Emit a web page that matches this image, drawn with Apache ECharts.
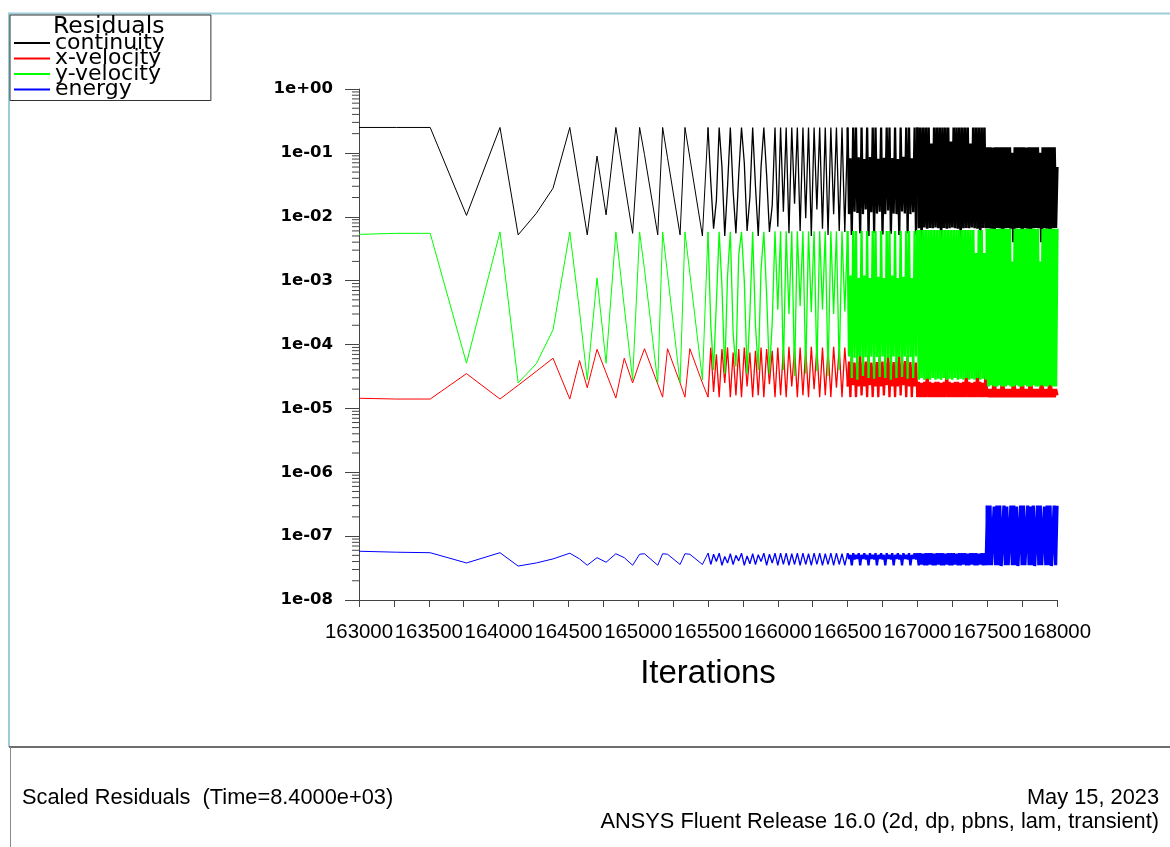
<!DOCTYPE html>
<html>
<head>
<meta charset="utf-8">
<title>Scaled Residuals</title>
<script src="https://cdn.jsdelivr.net/npm/echarts@6/dist/echarts.min.js"></script>
<style>
  html, body { margin: 0; padding: 0; background: #ffffff; }
  #chart { width: 1170px; height: 847px; }
</style>
</head>
<body>
<div id="chart"></div>
<script>
// Iteration counters: the early stretch is logged irregularly, later stretches at a fixed stride.
const iterStart = [163000, 163270, 163510, 163770, 164010, 164140, 164270, 164390, 164510, 164580,
  164635, 164705, 164770, 164840, 164900, 164960, 165010, 165045, 165140, 165175,
  165210, 165300, 165335, 165370, 165460];
function span(first, last, step) {
  const out = [];
  for (let v = first; v <= last; v += step) out.push(v);
  return out;
}
const iterations = iterStart.concat(
  span(165500, 166480, 20),
  span(166500, 166990, 10),
  span(167000, 167490, 10),
  span(167500, 168000, 10)
);

const continuity = [
  // 163000 - 165460
  0.25, 0.25, 0.25, 0.0105, 0.25, 0.0052, 0.0113, 0.028, 0.25, 0.029,
  0.0052, 0.089, 0.0107, 0.25, 0.036, 0.0055, 0.25, 0.094, 0.0052, 0.25,
  0.084, 0.0052, 0.25, 0.084, 0.005,
  // 165500 - 166480
  0.25, 0.035, 0.0065, 0.018, 0.25, 0.06, 0.005, 0.03, 0.25, 0.025,
  0.0055, 0.045, 0.25, 0.07, 0.006, 0.02, 0.25, 0.03, 0.005, 0.06,
  0.25, 0.045, 0.0058, 0.015, 0.25, 0.007, 0.25, 0.012, 0.25, 0.0055,
  0.25, 0.016, 0.25, 0.006, 0.25, 0.0095, 0.25, 0.005, 0.25, 0.013,
  0.25, 0.0065, 0.25, 0.0052, 0.25, 0.011, 0.25, 0.006, 0.25, 0.0058,
  // 166500 - 166990
  0.25, 0.011, 0.082, 0.0052, 0.25, 0.012, 0.25, 0.0115, 0.085, 0.0055,
  0.25, 0.011, 0.08, 0.013, 0.25, 0.005, 0.086, 0.0118, 0.25, 0.0056,
  0.25, 0.0112, 0.081, 0.012, 0.25, 0.0053, 0.084, 0.011, 0.25, 0.0125,
  0.25, 0.0054, 0.083, 0.0112, 0.25, 0.011, 0.08, 0.0052, 0.25, 0.0121,
  0.087, 0.0113, 0.25, 0.0055, 0.25, 0.011, 0.082, 0.0118, 0.25, 0.0053,
  // 167000 - 167490
  0.25, 0.0066, 0.25, 0.0045, 0.25, 0.0068, 0.25, 0.0065, 0.25, 0.0067,
  0.14, 0.0066, 0.25, 0.0068, 0.25, 0.0066, 0.25, 0.0046, 0.25, 0.0067,
  0.25, 0.0065, 0.25, 0.0066, 0.15, 0.0068, 0.25, 0.0066, 0.25, 0.0065,
  0.25, 0.0047, 0.25, 0.0066, 0.25, 0.0067, 0.25, 0.0066, 0.14, 0.0068,
  0.25, 0.0066, 0.25, 0.0065, 0.25, 0.0045, 0.25, 0.0067, 0.25, 0.0066,
  // 167500 - 168000
  0.122, 0.0066, 0.122, 0.0065, 0.121, 0.0043, 0.122, 0.0067, 0.122, 0.0066,
  0.122, 0.0042, 0.122, 0.0066, 0.122, 0.0067, 0.122, 0.0065, 0.1, 0.004,
  0.122, 0.0066, 0.122, 0.0067, 0.122, 0.0043, 0.122, 0.0066, 0.121, 0.0065,
  0.122, 0.0042, 0.122, 0.0066, 0.122, 0.0067, 0.122, 0.0066, 0.1, 0.004,
  0.122, 0.0066, 0.122, 0.0065, 0.122, 0.0043, 0.122, 0.0066, 0.122, 0.0067,
  0.06
];

const xVelocity = [
  1.44e-5, 1.4e-5, 1.4e-5, 3.5e-5, 1.4e-5, 2.3e-5, 3.8e-5, 6.1e-5, 1.4e-5, 5.6e-5,
  2.1e-5, 8.4e-5, 3.6e-5, 1.45e-5, 6.1e-5, 2.5e-5, 5.3e-5, 8.6e-5, 2.4e-5, 1.5e-5,
  8.6e-5, 2.5e-5, 1.5e-5, 8.6e-5, 2.5e-5,
  1.5e-5, 9e-5, 1.8e-5, 7e-5, 1.5e-5, 8.5e-5, 2.5e-5, 9e-5, 1.5e-5, 7.5e-5,
  1.6e-5, 8.5e-5, 1.5e-5, 9e-5, 2.2e-5, 7.5e-5, 1.5e-5, 8e-5, 1.6e-5, 9e-5,
  1.5e-5, 8.5e-5, 2.4e-5, 8e-5, 1.5e-5, 9e-5, 1.6e-5, 8.5e-5, 1.5e-5, 9.2e-5,
  2.2e-5, 8.8e-5, 1.5e-5, 9e-5, 1.6e-5, 8.5e-5, 1.5e-5, 9.2e-5, 2e-5, 8.8e-5,
  1.5e-5, 9e-5, 1.6e-5, 8.6e-5, 1.5e-5, 9.2e-5, 2.1e-5, 8.8e-5, 1.5e-5, 9e-5,
  2.2e-5, 5.4e-5, 1.5e-5, 6.8e-5, 2.3e-5, 5.2e-5, 1.5e-5, 5.5e-5, 2.2e-5, 6.6e-5,
  1.6e-5, 5.3e-5, 2.2e-5, 5.4e-5, 1.5e-5, 6.8e-5, 2.3e-5, 5.2e-5, 1.5e-5, 5.5e-5,
  2.2e-5, 5.3e-5, 1.5e-5, 6.7e-5, 2.2e-5, 5.4e-5, 1.6e-5, 5.2e-5, 2.3e-5, 6.8e-5,
  1.5e-5, 5.5e-5, 2.2e-5, 5.3e-5, 1.5e-5, 5.4e-5, 2.2e-5, 6.6e-5, 1.6e-5, 5.2e-5,
  2.3e-5, 5.5e-5, 1.5e-5, 6.8e-5, 2.2e-5, 5.3e-5, 1.5e-5, 5.4e-5, 2.2e-5, 5.2e-5,
  1.5e-5, 2.6e-5, 1.5e-5, 2.5e-5, 1.5e-5, 2.6e-5, 1.5e-5, 4e-5, 1.5e-5, 2.6e-5,
  1.5e-5, 2.5e-5, 1.5e-5, 2.6e-5, 1.5e-5, 2.6e-5, 1.5e-5, 2.5e-5, 1.5e-5, 2.6e-5,
  1.5e-5, 4e-5, 1.5e-5, 2.6e-5, 1.5e-5, 2.5e-5, 1.5e-5, 2.6e-5, 1.5e-5, 2.6e-5,
  1.5e-5, 2.5e-5, 1.5e-5, 2.6e-5, 1.5e-5, 4e-5, 1.5e-5, 2.6e-5, 1.5e-5, 2.5e-5,
  1.5e-5, 2.6e-5, 1.5e-5, 4e-5, 1.5e-5, 2.6e-5, 1.5e-5, 2.5e-5, 1.5e-5, 4e-5,
  1.5e-5, 2e-5, 1.5e-5, 2e-5, 1.5e-5, 3.2e-5, 1.5e-5, 2e-5, 1.5e-5, 2e-5,
  1.5e-5, 3.2e-5, 1.5e-5, 2e-5, 1.5e-5, 2e-5, 1.5e-5, 2e-5, 1.5e-5, 3.2e-5,
  1.5e-5, 2e-5, 1.5e-5, 2e-5, 1.5e-5, 3.2e-5, 1.5e-5, 2e-5, 1.5e-5, 2e-5,
  1.5e-5, 3.2e-5, 1.5e-5, 2e-5, 1.5e-5, 2e-5, 1.5e-5, 2e-5, 1.5e-5, 3.2e-5,
  1.5e-5, 2e-5, 1.5e-5, 2e-5, 1.5e-5, 3.2e-5, 1.5e-5, 2e-5, 1.5e-5, 2e-5,
  1.6e-5
];

const yVelocity = [
  5.3e-3, 5.5e-3, 5.5e-3, 5.1e-5, 5.8e-3, 2.5e-5, 5e-5, 1.7e-4, 5.8e-3, 3.3e-4,
  2.8e-5, 1.1e-3, 5.1e-5, 5.8e-3, 3.9e-4, 2.8e-5, 5.8e-3, 1.5e-3, 2.5e-5, 5.8e-3,
  1.27e-3, 2.5e-5, 5.8e-3, 1.3e-3, 2.8e-5,
  5.8e-3, 2e-4, 4e-5, 4.5e-4, 5.8e-3, 8e-4, 3.5e-5, 1.2e-3, 5.8e-3, 1.5e-4,
  4.5e-5, 2.5e-3, 5.8e-3, 1e-3, 3.5e-5, 3e-4, 5.8e-3, 2e-4, 4e-5, 1.5e-3,
  5.8e-3, 6e-4, 3.5e-5, 2.2e-4, 5.9e-3, 3.5e-4, 5.9e-3, 4e-5, 5.9e-3, 3e-4,
  5.9e-3, 3.2e-5, 5.9e-3, 4e-4, 5.9e-3, 3.5e-5, 5.9e-3, 3.2e-4, 5.9e-3, 3.8e-5,
  5.9e-3, 3.5e-4, 5.9e-3, 3.2e-5, 5.9e-3, 3e-4, 5.9e-3, 4e-5, 5.9e-3, 3.3e-4,
  6e-3, 6.5e-5, 1.2e-3, 3e-5, 6e-3, 6.2e-5, 6e-3, 2.8e-5, 1.1e-3, 6.5e-5,
  6e-3, 3.2e-5, 1.2e-3, 6.3e-5, 6e-3, 3e-5, 1.1e-3, 6.5e-5, 6e-3, 2.9e-5,
  6e-3, 6.4e-5, 1.15e-3, 3.1e-5, 6e-3, 6.5e-5, 1.1e-3, 3e-5, 6e-3, 6.2e-5,
  6e-3, 2.8e-5, 1.2e-3, 6.5e-5, 6e-3, 3e-5, 1.1e-3, 6.4e-5, 6e-3, 3.1e-5,
  1.15e-3, 6.5e-5, 6e-3, 2.9e-5, 6e-3, 6.3e-5, 1.1e-3, 3e-5, 6e-3, 6.5e-5,
  6.2e-3, 2.8e-5, 6.2e-3, 3e-5, 6.2e-3, 2.8e-5, 6.2e-3, 2.9e-5, 6.2e-3, 2.8e-5,
  6.2e-3, 3e-5, 6.2e-3, 2.8e-5, 6.2e-3, 2.9e-5, 6.2e-3, 2.8e-5, 6.2e-3, 3e-5,
  6.2e-3, 2.8e-5, 6.2e-3, 2.9e-5, 6.2e-3, 2.8e-5, 6.2e-3, 3e-5, 6.2e-3, 2.8e-5,
  6.2e-3, 2.9e-5, 6.2e-3, 2.8e-5, 6.2e-3, 3e-5, 6.2e-3, 2.8e-5, 6.2e-3, 2.9e-5,
  6.2e-3, 2.8e-5, 2.7e-3, 3e-5, 6.2e-3, 2.8e-5, 6.2e-3, 2.9e-5, 2.7e-3, 2.8e-5,
  6.5e-3, 2.2e-5, 6.5e-3, 2.3e-5, 6.5e-3, 2.2e-5, 6.5e-3, 2.2e-5, 6.5e-3, 2.3e-5,
  6.5e-3, 2.2e-5, 6.5e-3, 2.2e-5, 6.5e-3, 2.3e-5, 6.5e-3, 2.2e-5, 2e-3, 2.2e-5,
  6.5e-3, 2.3e-5, 6.5e-3, 2.2e-5, 6.5e-3, 2.2e-5, 6.5e-3, 2.3e-5, 6.5e-3, 2.2e-5,
  6.5e-3, 2.2e-5, 6.5e-3, 2.3e-5, 6.5e-3, 2.2e-5, 6.5e-3, 2.2e-5, 2e-3, 2.3e-5,
  6.5e-3, 2.2e-5, 6.5e-3, 2.2e-5, 6.5e-3, 2.3e-5, 6.5e-3, 2.2e-5, 6.5e-3, 2.2e-5,
  6.5e-3
];

const energy = [
  5.8e-8, 5.6e-8, 5.5e-8, 3.8e-8, 5.5e-8, 3.4e-8, 3.8e-8, 4.4e-8, 5.4e-8, 4.4e-8,
  3.5e-8, 4.6e-8, 3.9e-8, 5.3e-8, 4.6e-8, 3.5e-8, 5.2e-8, 5.3e-8, 3.5e-8, 5.3e-8,
  5.2e-8, 3.6e-8, 5.3e-8, 5.2e-8, 3.6e-8,
  5.4e-8, 3.6e-8, 5.2e-8, 4e-8, 5.4e-8, 3.5e-8, 4.8e-8, 3.8e-8, 5.3e-8, 3.6e-8,
  5e-8, 4.1e-8, 5.4e-8, 3.5e-8, 4.9e-8, 3.7e-8, 5.3e-8, 3.6e-8, 5.1e-8, 4e-8,
  5.4e-8, 3.5e-8, 5.2e-8, 3.8e-8, 5.4e-8, 3.5e-8, 5.4e-8, 3.6e-8, 5.4e-8, 3.5e-8,
  5.3e-8, 3.6e-8, 5.4e-8, 3.5e-8, 5.4e-8, 3.6e-8, 5.3e-8, 3.5e-8, 5.4e-8, 3.6e-8,
  5.4e-8, 3.5e-8, 5.3e-8, 3.6e-8, 5.4e-8, 3.5e-8, 5.4e-8, 3.6e-8, 5.3e-8, 3.5e-8,
  5.4e-8, 4.4e-8, 5.1e-8, 3.5e-8, 5.4e-8, 4.3e-8, 5.1e-8, 4.4e-8, 5.4e-8, 3.5e-8,
  5.1e-8, 4.4e-8, 5.4e-8, 4.3e-8, 5.1e-8, 3.5e-8, 5.4e-8, 4.4e-8, 5.1e-8, 4.3e-8,
  5.4e-8, 3.5e-8, 5.1e-8, 4.4e-8, 5.4e-8, 4.3e-8, 5.1e-8, 3.5e-8, 5.4e-8, 4.4e-8,
  5.1e-8, 4.3e-8, 5.4e-8, 3.5e-8, 5.1e-8, 4.4e-8, 5.4e-8, 4.3e-8, 5.1e-8, 3.5e-8,
  5.4e-8, 4.4e-8, 5.1e-8, 4.3e-8, 5.4e-8, 3.5e-8, 5.1e-8, 4.4e-8, 5.4e-8, 4.3e-8,
  5.4e-8, 3.5e-8, 5.4e-8, 3.6e-8, 5.3e-8, 3.5e-8, 5.4e-8, 3.5e-8, 5.4e-8, 3.6e-8,
  5.4e-8, 3.5e-8, 5.3e-8, 3.5e-8, 5.4e-8, 3.6e-8, 5.4e-8, 3.5e-8, 5.4e-8, 3.5e-8,
  5.3e-8, 3.6e-8, 5.4e-8, 3.5e-8, 5.4e-8, 3.5e-8, 5.4e-8, 3.6e-8, 5.3e-8, 3.5e-8,
  5.4e-8, 3.5e-8, 5.4e-8, 3.6e-8, 5.4e-8, 3.5e-8, 5.3e-8, 3.5e-8, 5.4e-8, 3.6e-8,
  5.4e-8, 3.5e-8, 5.4e-8, 3.5e-8, 5.3e-8, 3.6e-8, 5.4e-8, 3.5e-8, 5.4e-8, 3.5e-8,
  // 167500 - 168000
  3e-7, 3.5e-8, 3e-7, 3.5e-8, 3.6e-8, 2.9e-7, 3.5e-8, 3e-7, 3.5e-8, 3e-7,
  3.4e-8, 3.6e-8, 3e-7, 3.5e-8, 2.9e-7, 3.5e-8, 3.6e-8, 3e-7, 3.5e-8, 3e-7,
  3.5e-8, 2.9e-7, 3.4e-8, 3.6e-8, 3e-7, 3.5e-8, 3e-7, 3.5e-8, 3.6e-8, 3e-7,
  3.5e-8, 2.9e-7, 3.5e-8, 3e-7, 3.4e-8, 3.6e-8, 3e-7, 3.5e-8, 3e-7, 3.5e-8,
  3.6e-8, 2.9e-7, 3.5e-8, 3e-7, 3.5e-8, 3e-7, 3.4e-8, 3.6e-8, 3e-7, 3.5e-8,
  3e-7
];

const seriesNames = ['continuity', 'x-velocity', 'y-velocity', 'energy'];
const seriesValues = [continuity, xVelocity, yVelocity, energy];
const seriesColors = ['#000000', '#ff0000', '#00ff00', '#0000ff'];

// Axis furniture
const yTickLabels = ['1e-08', '1e-07', '1e-06', '1e-05', '1e-04', '1e-03', '1e-02', '1e-01', '1e+00'];
const yMinorMultipliers = [2, 3, 4, 5, 6, 7, 8, 9];
const xMin = 163000, xMax = 168000;

// Later, denser stretches are drawn with progressively heavier strokes.
const stretchBounds = [163000, 165500, 166500, 167000, 167500, 168000];
const stretchWidths = [1, 1.3, 2.3, 2.6, 3.3];

const series = [];
seriesNames.forEach((name, k) => {
  const pairs = iterations.map((it, i) => [it, seriesValues[k][i]]);
  for (let s = 0; s < stretchWidths.length; s++) {
    const lo = stretchBounds[s], hi = stretchBounds[s + 1];
    series.push({
      name: name,
      type: 'line',
      data: pairs.filter(p => p[0] >= lo && p[0] <= hi),
      symbol: 'none',
      showSymbol: false,
      silent: true,
      animation: false,
      lineStyle: { color: seriesColors[k], width: stretchWidths[s], join: 'bevel' },
      itemStyle: { color: seriesColors[k] }
    });
  }
});

// Minor ticks of the log axis (2..9 within each decade)
const minorTicks = [];
for (let e = -8; e < 0; e++) {
  yMinorMultipliers.forEach(m => minorTicks.push([xMin, m * Math.pow(10, e)]));
}
series.push({
  name: 'minorTicks',
  type: 'custom',
  silent: true,
  animation: false,
  data: minorTicks,
  renderItem: function (params, api) {
    const p = api.coord([api.value(0), api.value(1)]);
    return {
      type: 'line',
      shape: { x1: p[0] - 7, y1: p[1], x2: p[0], y2: p[1] },
      style: { stroke: '#444444', lineWidth: 1 }
    };
  }
});

const chart = echarts.init(document.getElementById('chart'), null, { renderer: 'canvas' });
chart.setOption({
  animation: false,
  backgroundColor: '#ffffff',
  title: {
    text: 'Residuals',
    left: 53,
    top: 15,
    padding: 0,
    textStyle: { fontFamily: 'DejaVu Sans', fontSize: 23.5, fontWeight: 'normal', color: '#000', lineHeight: 23 }
  },
  legend: {
    data: seriesNames,
    orient: 'vertical',
    left: 10,
    top: 15,
    padding: [17, 46, 0, 3],
    itemGap: -6.5,
    itemWidth: 36,
    itemHeight: 15,
    borderColor: '#333333',
    borderWidth: 1,
    selectedMode: false,
    itemStyle: { color: 'rgba(0,0,0,0)', borderColor: 'rgba(0,0,0,0)', borderWidth: 0 },
    textStyle: { fontFamily: 'DejaVu Sans', fontSize: 22, color: '#000' }
  },
  grid: { left: 359, right: 113, top: 89, bottom: 247, containLabel: false },
  xAxis: {
    type: 'value',
    min: xMin,
    max: xMax,
    interval: 500,
    name: 'Iterations',
    nameLocation: 'middle',
    nameGap: 57,
    nameTextStyle: { fontFamily: 'Liberation Sans', fontSize: 33, color: '#000' },
    axisLine: { lineStyle: { color: '#444444', width: 1 } },
    axisTick: { length: 7, lineStyle: { color: '#444444' } },
    minorTick: { show: true, splitNumber: 2, length: 7, lineStyle: { color: '#444444' } },
    splitLine: { show: false },
    axisLabel: {
      margin: 22,
      showMinLabel: true,
      showMaxLabel: true,
      hideOverlap: false,
      fontFamily: 'Liberation Sans',
      fontSize: 20.4,
      color: '#000',
      formatter: v => String(v)
    }
  },
  yAxis: {
    type: 'log',
    logBase: 10,
    min: 1e-8,
    max: 1,
    interval: 1,
    axisLine: { show: true, lineStyle: { color: '#444444', width: 1 } },
    axisTick: { show: true, length: 14, lineStyle: { color: '#444444' } },
    splitLine: { show: false },
    axisLabel: {
      margin: 26,
      showMinLabel: true,
      showMaxLabel: true,
      fontFamily: 'DejaVu Sans',
      fontWeight: 'bold',
      fontSize: 16.5,
      color: '#000',
      formatter: v => yTickLabels[Math.round(Math.log10(v)) + 8]
    }
  },
  series: series,
  graphic: [
    { type: 'line', silent: true, shape: { x1: 8, y1: 13.5, x2: 1170, y2: 13.5 }, style: { stroke: '#9ccbd9', lineWidth: 2 } },
    { type: 'line', silent: true, shape: { x1: 9, y1: 13, x2: 9, y2: 747 }, style: { stroke: '#9ccbd9', lineWidth: 2 } },
    { type: 'line', silent: true, shape: { x1: 9, y1: 747, x2: 1170, y2: 747 }, style: { stroke: '#6e6e6e', lineWidth: 2 } },
    { type: 'line', silent: true, shape: { x1: 10.5, y1: 747, x2: 10.5, y2: 847 }, style: { stroke: '#8a8a8a', lineWidth: 1 } },
    { type: 'text', silent: true, left: 22, top: 787,
      style: { text: 'Scaled Residuals  (Time=8.4000e+03)', font: '21.8px "Liberation Sans"', fill: '#000' } },
    { type: 'text', silent: true, right: 11, top: 787,
      style: { text: 'May 15, 2023', font: '21.8px "Liberation Sans"', fill: '#000' } },
    { type: 'text', silent: true, right: 11, top: 811,
      style: { text: 'ANSYS Fluent Release 16.0 (2d, dp, pbns, lam, transient)', font: '21.8px "Liberation Sans"', fill: '#000' } }
  ]
});
</script>
</body>
</html>
